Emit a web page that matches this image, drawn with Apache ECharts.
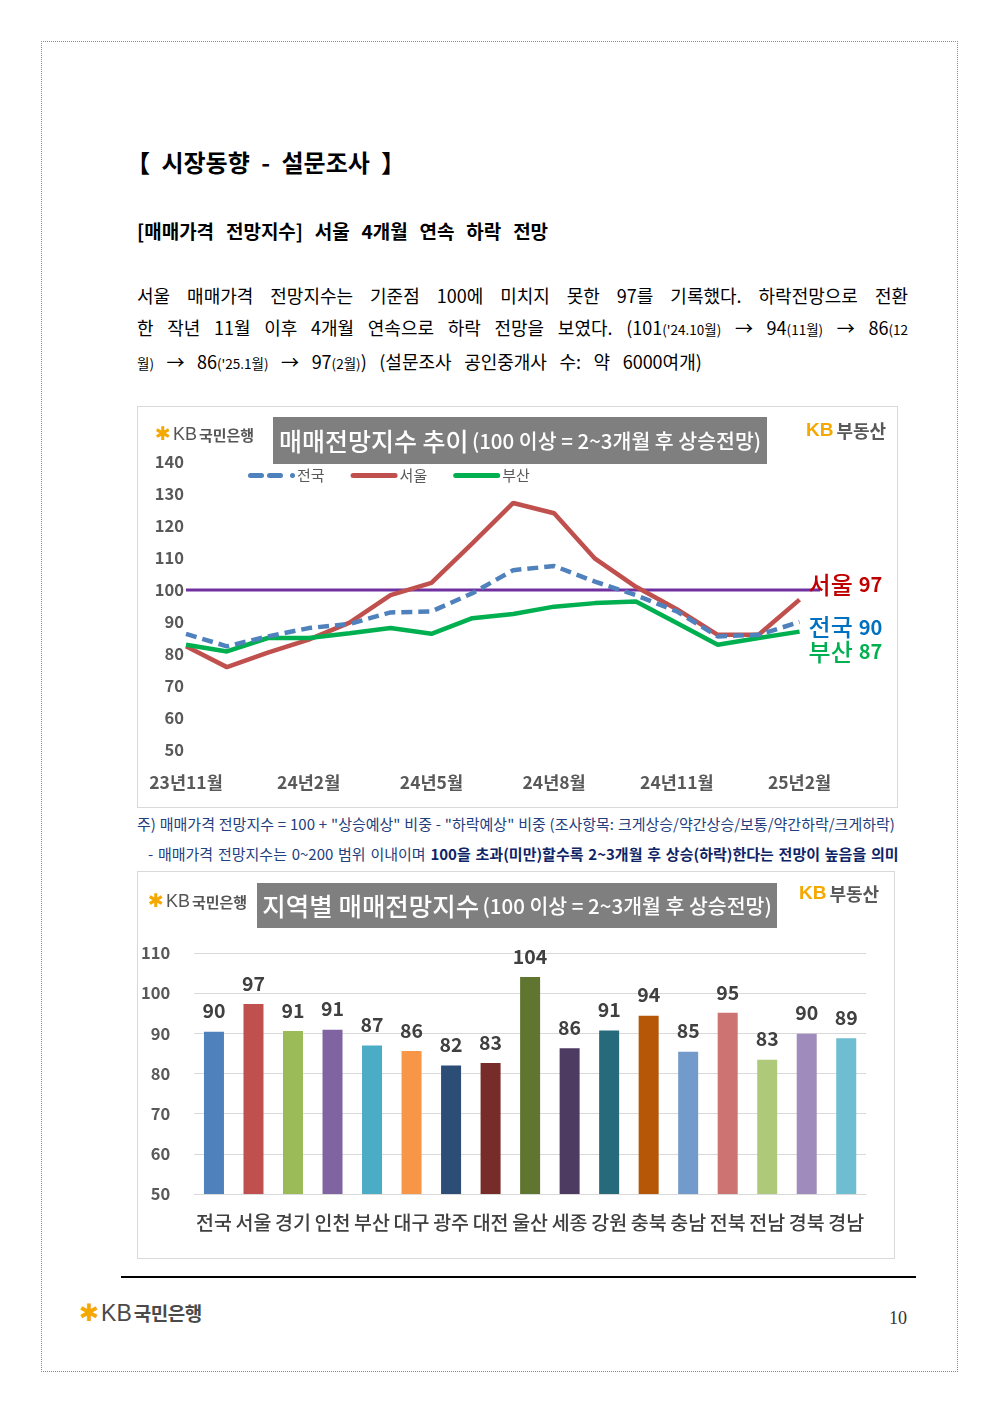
<!DOCTYPE html>
<html><head><meta charset="utf-8">
<script src="https://cdn.jsdelivr.net/npm/echarts/dist/echarts.min.js"></script>
<style>
body{margin:0;background:#fff;font-family:'Noto Sans CJK KR',sans-serif;color:#000;}
#page{position:relative;width:1000px;height:1414px;overflow:hidden;background:#fff;}
.frame{position:absolute;left:41px;top:41px;width:917px;height:1331px;border:1px dotted #8a8a8a;box-sizing:border-box;}
.h1{position:absolute;left:126px;top:146px;font-size:24px;line-height:32px;font-weight:700;white-space:pre;word-spacing:6px;}
.h2{position:absolute;left:137px;top:218px;font-size:19px;line-height:26px;font-weight:700;white-space:pre;word-spacing:7.5px;}
.para{position:absolute;left:137px;top:279px;width:771px;font-size:18px;line-height:32px;}
.para .j{text-align:justify;text-align-last:justify;}
.para .l3{word-spacing:8.5px;}
.para .s{font-size:13.5px;word-spacing:0;}
.chart{position:absolute;border:1px solid #d9d9d9;box-sizing:border-box;}
#c1{left:137px;top:406px;width:761px;height:402px;}
#c2{left:137px;top:871px;width:758px;height:388px;}
.note{position:absolute;left:137px;top:809px;font-size:15px;line-height:30px;color:#22407e;white-space:pre;}
.note .n1{word-spacing:0.5px;}
.note .n2{padding-left:11px;word-spacing:1.4px;}
.note b{color:#0e2466;}
.fline{position:absolute;left:121px;top:1276px;width:795px;height:2px;background:#000;}
.flogo{position:absolute;left:79px;top:1298px;line-height:30px;color:#4a4a4a;white-space:pre;}
.flogo .st{color:#f5a800;font-family:'DejaVu Sans';font-size:24px;}
.flogo .kb{font-family:'Liberation Sans';font-size:23px;padding-left:2px;}
.flogo .nm{font-weight:700;font-size:19px;letter-spacing:-0.5px;padding-left:2px;}
.pnum{position:absolute;left:889px;top:1308px;font-family:'Liberation Serif',serif;font-size:18px;color:#333;}
</style></head>
<body><div id="page">
<div class="frame"></div>
<div class="h1">【 시장동향 - 설문조사 】</div>
<div class="h2">[매매가격 전망지수] 서울 4개월 연속 하락 전망</div>
<div class="para">
<div class="j">서울 매매가격 전망지수는 기준점 100에 미치지 못한 97를 기록했다. 하락전망으로 전환</div>
<div class="j">한 작년 11월 이후 4개월 연속으로 하락 전망을 보였다. (101<span class="s">('24.10월)</span> → 94<span class="s">(11월)</span> → 86<span class="s">(12</span></div>
<div class="l3"><span class="s">월)</span> → 86<span class="s">('25.1월)</span> → 97<span class="s">(2월)</span>) (설문조사 공인중개사 수: 약 6000여개)</div>
</div>
<div id="c1" class="chart"></div>
<div class="note"><div class="n1">주) 매매가격 전망지수 = 100 + "상승예상" 비중 - "하락예상" 비중 (조사항목: 크게상승/약간상승/보통/약간하락/크게하락)</div><div class="n2">- 매매가격 전망지수는 0~200 범위 이내이며 <b>100을 초과(미만)할수록 2~3개월 후 상승(하락)한다는 전망이 높음을 의미</b></div></div>
<div id="c2" class="chart"></div>
<div class="fline"></div>
<div class="flogo"><span class="st">✱</span><span class="kb">KB</span><span class="nm">국민은행</span></div>
<div class="pnum">10</div>
</div>
<script>
// ---- Line chart data ----
const months = ['23년11월','23년12월','24년1월','24년2월','24년3월','24년4월','24년5월','24년6월','24년7월','24년8월','24년9월','24년10월','24년11월','24년12월','25년1월','25년2월'];
const nationwide = [86.3, 82.4, 85.5, 88.1, 89.4, 93.0, 93.3, 99.0, 106.2, 107.5, 102.6, 98.4, 93.3, 85.5, 86.0, 90.0];
const seoul = [82.4, 75.9, 80.4, 84.5, 89.8, 98.4, 102.2, 114.6, 127.2, 124.0, 109.8, 101, 94, 86, 86, 97];
const busan = [82.9, 80.8, 85.0, 85.0, 86.5, 88.1, 86.3, 91.2, 92.5, 94.8, 95.9, 96.4, 89.7, 82.9, 85.0, 87.0];
const baseline = 100;
const lineYMin = 50, lineYMax = 140, lineYStep = 10;
const monthLabelStep = 3;

// ---- Bar chart data ----
const regions = ['전국','서울','경기','인천','부산','대구','광주','대전','울산','세종','강원','충북','충남','전북','전남','경북','경남'];
const regionValues = [90.4, 97.3, 90.6, 90.9, 87.0, 85.6, 82.0, 82.6, 104.0, 86.3, 90.7, 94.4, 85.4, 95.1, 83.4, 89.9, 88.8];
const barYMin = 50, barYMax = 110, barYStep = 10;

const barColors = ['#4f81bd','#c0504d','#9bbb59','#8064a2','#4bacc6','#f79646','#2c4d75','#772c2a','#5f7530','#4d3b62','#276a7c','#b65708','#729aca','#cd7371','#afc97a','#a08cbc','#6fbdd1'];
const FONT = "'Noto Sans CJK KR', sans-serif";

function logoText(x, y){
  return {type:'text', x:x, y:y, z:10, style:{
    text:'{s|✱}{k|KB}{n|국민은행}', textVerticalAlign:'middle',
    rich:{
      s:{fill:'#f5a800', fontSize:19, fontFamily:'DejaVu Sans'},
      k:{fill:'#555', fontSize:18, fontFamily:'Liberation Sans', padding:[0,2,0,2]},
      n:{fill:'#555', fontSize:15, fontWeight:'bold', fontFamily:FONT}
    }}};
}
function kbRE(x, y){
  return {type:'text', x:x, y:y, z:10, style:{
    text:'{k|KB}{n|부동산}', textVerticalAlign:'middle',
    rich:{
      k:{fill:'#f5a800', fontSize:19, fontWeight:'bold', fontFamily:'Liberation Sans', padding:[0,3,0,0]},
      n:{fill:'#595959', fontSize:18, fontWeight:'bold', fontFamily:FONT}
    }}};
}
function titleBox(x, y, w, h, main, sub, mainSize, subSize){
  return [
    {type:'rect', shape:{x:x, y:y, width:w, height:h}, style:{fill:'#7f7f7f'}, z:5},
    {type:'text', x:x + w/2, y:y + h/2 + 1, z:6, style:{
      text:'{a|' + main + '} {b|' + sub + '}', textAlign:'center', textVerticalAlign:'middle',
      rich:{
        a:{fill:'#fff', fontSize:mainSize, fontFamily:FONT, fontWeight:500},
        b:{fill:'#fff', fontSize:subSize, fontFamily:FONT, fontWeight:500}
      }}}
  ];
}

// ---------- Chart 1 ----------
const c1 = echarts.init(document.getElementById('c1'), null, {renderer:'canvas'});
function endLbl(color, dy){
  return {show:true, distance:9, offset:[0, dy],
    formatter: p => '{n|' + p.seriesName + '}{v|' + Math.round(p.value[1]) + '}',
    rich:{
      n:{color:color, fontSize:24, fontFamily:FONT, fontWeight:500},
      v:{color:color, fontSize:20, fontFamily:FONT, fontWeight:'bold', padding:[0,0,0,6]}
    }};
}
const toXY = arr => arr.map((v, i) => [i, v]);
const dashIcon = 'path://M2.5,0H13.5A2.5,2.5,0,0,1,13.5,5H2.5A2.5,2.5,0,0,1,2.5,0Z M21.5,0H32.5A2.5,2.5,0,0,1,32.5,5H21.5A2.5,2.5,0,0,1,21.5,0Z M44.5,0A2.5,2.5,0,0,1,44.5,5A2.5,2.5,0,0,1,44.5,0Z M47,2.5Z';
const barIcon = 'path://M2.5,0H44.5A2.5,2.5,0,0,1,44.5,5H2.5A2.5,2.5,0,0,1,2.5,0Z';
c1.setOption({
  animation:false,
  textStyle:{fontFamily:FONT},
  grid:{left:48, right:77, top:55, bottom:57},
  legend:{
    data:[{name:'전국', icon:dashIcon},{name:'서울', icon:barIcon},{name:'부산', icon:barIcon}],
    left:105, top:56, itemWidth:47, itemHeight:5, itemGap:26,
    itemStyle:{borderWidth:0}, lineStyle:{width:0},
    textStyle:{fontSize:15, color:'#595959', fontFamily:FONT, padding:[0,0,0,-3]}
  },
  xAxis:{
    type:'value', min:0, max:months.length - 0.5, interval:monthLabelStep,
    axisLine:{show:false}, axisTick:{show:false}, splitLine:{show:false},
    axisLabel:{margin:24, fontSize:17.5, fontWeight:'bold', color:'#595959',
      formatter: v => (Number.isInteger(v) && v % monthLabelStep === 0 && months[v]) ? months[v] : ''}
  },
  yAxis:{
    type:'value', min:lineYMin, max:lineYMax, interval:lineYStep,
    axisLine:{show:false}, axisTick:{show:false}, splitLine:{show:false},
    axisLabel:{margin:2, fontSize:16.5, fontWeight:'bold', color:'#595959'}
  },
  series:[
    {name:'기준', type:'line', data:[[0, baseline],[months.length - 0.5, baseline]], symbol:'none',
      lineStyle:{color:'#7030a0', width:3}, z:1, silent:true},
    {name:'서울', type:'line', data:toXY(seoul), symbol:'none', color:'#c0504d',
      lineStyle:{color:'#c0504d', width:4.5}, z:2, endLabel:endLbl('#c00000', -15)},
    {name:'부산', type:'line', data:toXY(busan), symbol:'none', color:'#00b050',
      lineStyle:{color:'#00b050', width:4.5}, z:3, endLabel:endLbl('#00b050', 20)},
    {name:'전국', type:'line', data:toXY(nationwide), symbol:'none', color:'#4f81bd',
      lineStyle:{color:'#4f81bd', width:4.5, type:[11,6]}, z:4, endLabel:endLbl('#0070c0', 5)}
  ],
  graphic:[logoText(17, 28), kbRE(668, 24)].concat(titleBox(135, 10, 494, 47, '매매전망지수 추이', '(100 이상 = 2~3개월 후 상승전망)', 25, 20.5))
});

// ---------- Chart 2 ----------
const c2 = echarts.init(document.getElementById('c2'), null, {renderer:'canvas'});
c2.setOption({
  animation:false,
  color:barColors,
  textStyle:{fontFamily:FONT},
  grid:{left:56, right:28, top:81, bottom:64},
  xAxis:{
    type:'category', data:regions,
    axisLine:{show:true, lineStyle:{color:'#d9d9d9'}}, axisTick:{show:false},
    axisLabel:{margin:19, fontSize:19.5, color:'#404040', fontWeight:500, interval:0}
  },
  yAxis:{
    type:'value', min:barYMin, max:barYMax, interval:barYStep,
    axisLine:{show:false}, axisTick:{show:false},
    splitLine:{lineStyle:{color:'#d9d9d9', width:1}},
    axisLabel:{margin:24, fontSize:16.5, fontWeight:'bold', color:'#595959'}
  },
  series:[{
    type:'bar', data:regionValues, colorBy:'data', barWidth:20,
    label:{show:true, position:'top', distance:11, fontSize:19.5, fontWeight:'bold', color:'#404040',
      formatter: p => Math.round(p.value)}
  }],
  graphic:[logoText(10, 30), kbRE(661, 22)].concat(titleBox(119, 11, 520, 45, '지역별 매매전망지수', '(100 이상 = 2~3개월 후 상승전망)', 25.5, 20.5))
});
</script>
</body></html>
